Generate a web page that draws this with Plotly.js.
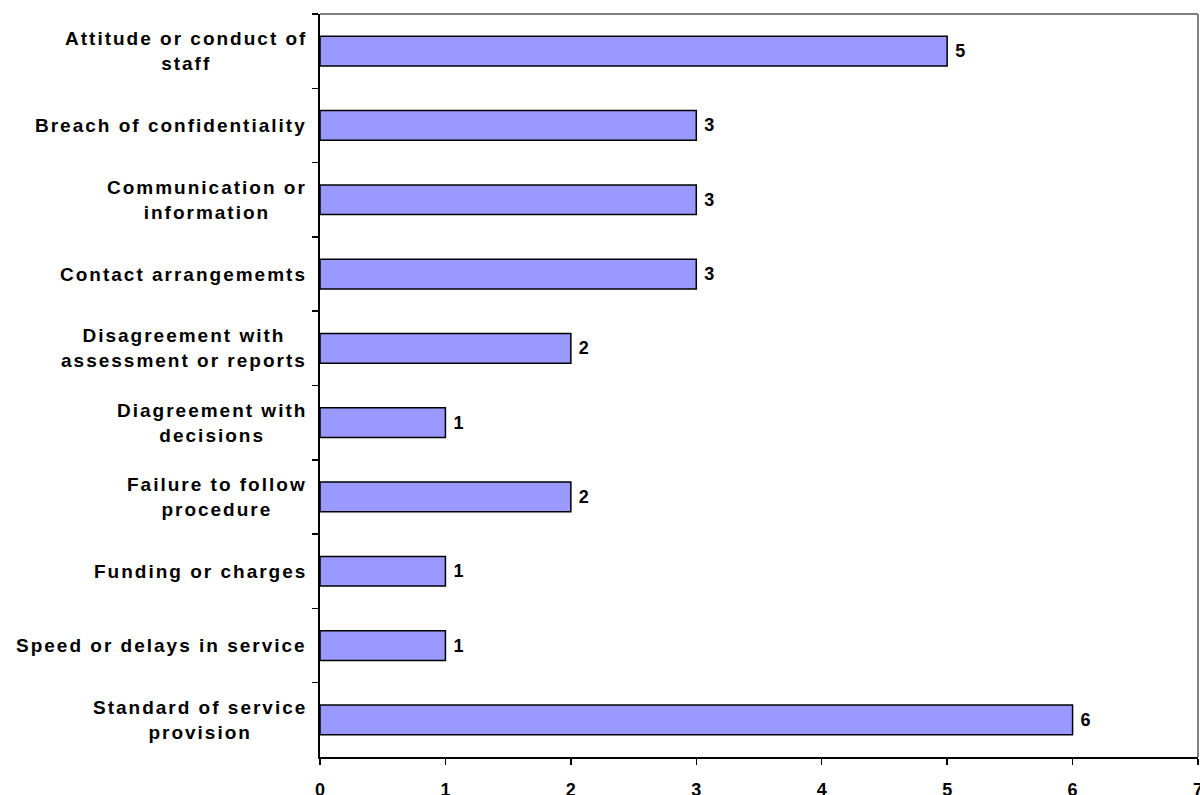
<!DOCTYPE html>
<html>
<head>
<meta charset="utf-8">
<script src="https://cdn.plot.ly/plotly-3.0.1.min.js"></script>
<style>
html,body{margin:0;padding:0;background:#fff;}
#chart{width:1200px;height:795px;}
.annotation-text{letter-spacing:2px;}
</style>
</head>
<body>
<div id="chart"></div>
<script>
const categories = [
  "Attitude or conduct of<br>staff",
  "Breach of confidentiality",
  "Communication or<br>information",
  "Contact arrangememts",
  "Disagreement with<br>assessment or reports",
  "Diagreement with<br>decisions",
  "Failure to follow<br>procedure",
  "Funding or charges",
  "Speed or delays in service",
  "Standard of service<br>provision"
];
const counts = [5, 3, 3, 3, 2, 1, 2, 1, 1, 6];
const xTicks = [0, 1, 2, 3, 4, 5, 6, 7];

const FONT = "Liberation Sans, Arial, sans-serif";

const trace = {
  type: "bar",
  orientation: "h",
  y: categories,
  x: counts,
  width: 0.4,
  marker: {color: "#9999FF", line: {color: "#000000", width: 1.5}},
  text: counts.map(v => "\u00a0" + v),
  textposition: "outside",
  textfont: {family: FONT, size: 18, color: "#000000", weight: "bold"},
  cliponaxis: false,
  hoverinfo: "none"
};

const annotations = categories.map((c) => ({
  xref: "paper", yref: "y",
  x: 0, y: c,
  xanchor: "right", yanchor: "middle",
  xshift: -11,
  text: "<b>" + c + "</b>",
  showarrow: false,
  align: "center",
  font: {family: FONT, size: 19, color: "#000000"}
}));

const layout = {
  width: 1200, height: 795,
  margin: {l: 320, r: 2, t: 14, b: 38},
  paper_bgcolor: "#ffffff",
  plot_bgcolor: "#ffffff",
  showlegend: false,
  bargap: 0.6,
  xaxis: {
    range: [0, 7],
    tickvals: xTicks,
    ticktext: xTicks.map(String),
    showgrid: false,
    zeroline: false,
    showline: true,
    linecolor: "#000000",
    linewidth: 2,
    ticks: "outside",
    ticklen: 6,
    tickwidth: 1.5,
    tickcolor: "#000000",
    ticklabelstandoff: 9,
    ticklabeloverflow: "allow",
    tickfont: {family: FONT, size: 18, color: "#000000", weight: "bold"},
    mirror: false,
    fixedrange: true
  },
  yaxis: {
    autorange: "reversed",
    type: "category",
    showgrid: false,
    zeroline: false,
    showline: true,
    linecolor: "#000000",
    linewidth: 2,
    ticks: "outside",
    tickson: "boundaries",
    ticklen: 6,
    tickwidth: 1.5,
    tickcolor: "#000000",
    showticklabels: false,
    fixedrange: true
  },
  shapes: [
    {type: "line", xref: "paper", yref: "paper", x0: 0, x1: 1, y0: 1, y1: 1, line: {color: "#808080", width: 2}},
    {type: "line", xref: "paper", yref: "paper", x0: 1, x1: 1, y0: 0, y1: 1, line: {color: "#808080", width: 2}}
  ],
  annotations: annotations
};

Plotly.newPlot("chart", [trace], layout, {displayModeBar: false, staticPlot: true});
</script>
</body>
</html>
